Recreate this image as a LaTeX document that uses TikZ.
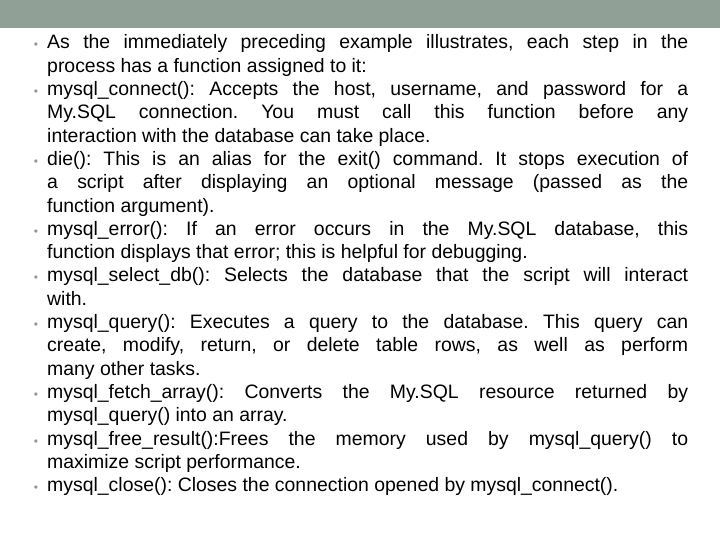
\documentclass[tikz,border=0pt]{standalone}
\usepackage{fontspec}
\setmainfont{Liberation Sans}
\frenchspacing
\definecolor{barcolor}{RGB}{145,160,150}
\definecolor{dotgray}{RGB}{150,150,150}
\tikzset{%
    line/.style={anchor=base west, inner sep=0pt, font=\fontsize{19.5}{22}\selectfont},
    dot/.style={anchor=base, inner sep=0pt, text=dotgray, font=\fontsize{12}{14}\selectfont}
}
% full line: stretched to the text width; last line of a bullet: left aligned
\newcommand{\fullline}[3]{\node[line] (l#1) at (47,{540-49-23.3*(#1-1)}) {\makebox[641bp][s]{#3}};
    \ifnum#2=1 \node[dot] (b#1) at (36,{540-49-23.3*(#1-1)}) {•};\fi}
\newcommand{\lastline}[3]{\node[line] (l#1) at (47,{540-49-23.3*(#1-1)}) {#3};
    \ifnum#2=1 \node[dot] (b#1) at (36,{540-49-23.3*(#1-1)}) {•};\fi}

\begin{document}
\begin{tikzpicture}[x=1bp,y=1bp]
    \useasboundingbox (0,0) rectangle (720,540);
    \fill[white] (0,0) rectangle (720,540);
    \fill[barcolor] (0,512) rectangle (720,540);
    \fullline{1}{1}{As the immediately preceding example illustrates, each step in the}
    \lastline{2}{0}{process has a function assigned to it:}
    \fullline{3}{1}{mysql\_connect(): Accepts the host, username, and password for a}
    \fullline{4}{0}{My.SQL connection. You must call this function before any}
    \lastline{5}{0}{interaction with the database can take place.}
    \fullline{6}{1}{die(): This is an alias for the exit() command. It stops execution of}
    \fullline{7}{0}{a script after displaying an optional message (passed as the}
    \lastline{8}{0}{function argument).}
    \fullline{9}{1}{mysql\_error(): If an error occurs in the My.SQL database, this}
    \lastline{10}{0}{function displays that error; this is helpful for debugging.}
    \fullline{11}{1}{mysql\_select\_db(): Selects the database that the script will interact}
    \lastline{12}{0}{with.}
    \fullline{13}{1}{mysql\_query(): Executes a query to the database. This query can}
    \fullline{14}{0}{create, modify, return, or delete table rows, as well as perform}
    \lastline{15}{0}{many other tasks.}
    \fullline{16}{1}{mysql\_fetch\_array(): Converts the My.SQL resource returned by}
    \lastline{17}{0}{mysql\_query() into an array.}
    \fullline{18}{1}{mysql\_free\_result():Frees the memory used by mysql\_query() to}
    \lastline{19}{0}{maximize script performance.}
    \lastline{20}{1}{mysql\_close(): Closes the connection opened by mysql\_connect().}
\end{tikzpicture}
\end{document}
